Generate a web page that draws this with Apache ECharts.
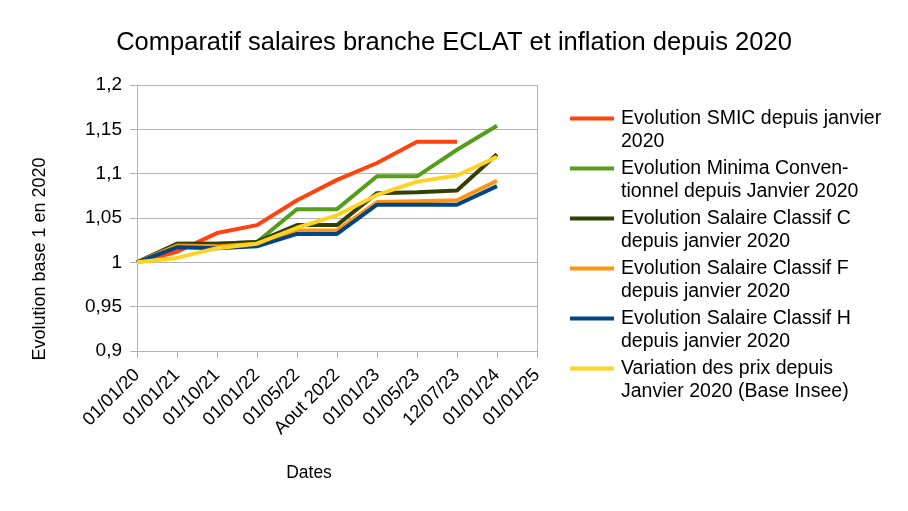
<!DOCTYPE html>
<html>
	<head>
		<meta charset="utf-8">
		<title></title>
		<script src='https://cdn.jsdelivr.net/npm/echarts@6.0.0/dist/echarts.min.js'></script>
		<style>
			body{ margin:0; }
			#chart{
				width: 908px;
				height: 511px;
			}
		</style>
	</head>
	<body>
		<div id="chart"></div>
		<script>
            const dates = ['01/01/20','01/01/21','01/10/21','01/01/22','01/05/22','Aout 2022','01/01/23','01/05/23','12/07/23','01/01/24','01/01/25']
            const smic = [1, 1.012, 1.033, 1.042, 1.070, 1.093, 1.112, 1.136, 1.136, null, null]
            const minima = [1, 1.021, 1.021, 1.023, 1.060, 1.060, 1.097, 1.097, 1.127, 1.154, null]
            const classifC = [1, 1.021, 1.021, 1.023, 1.042, 1.042, 1.078, 1.079, 1.081, 1.122, null]
            const classifF = [1, 1.019, 1.018, 1.021, 1.036, 1.036, 1.068, 1.069, 1.070, 1.092, null]
            const classifH = [1, 1.017, 1.016, 1.018, 1.032, 1.032, 1.065, 1.065, 1.065, 1.086, null]
            const prix = [1, 1.005, 1.016, 1.021, 1.039, 1.053, 1.076, 1.091, 1.098, 1.119, null]

            const names = [
                'Evolution SMIC depuis janvier\n2020',
                'Evolution Minima Conven-\ntionnel depuis Janvier 2020',
                'Evolution Salaire Classif C\ndepuis janvier 2020',
                'Evolution Salaire Classif F\ndepuis janvier 2020',
                'Evolution Salaire Classif H\ndepuis janvier 2020',
                'Variation des prix depuis\nJanvier 2020 (Base Insee)'
            ]
            const values = [smic, minima, classifC, classifF, classifH, prix]
            const colors = ['#ff420e','#579d1c','#314004','#ff950e','#004586','#ffd320']

            const font = 'Liberation Sans'
            const gray = '#b3b3b3'

			const chart = echarts.init(document.getElementById('chart'), null, {renderer:'canvas'});
            const option = {
                animation:false,
                textStyle:{ fontFamily:font },
                title:{
                    text:'Comparatif salaires branche ECLAT et inflation depuis 2020',
                    left:'center',
                    top:25,
                    textStyle:{ fontFamily:font, fontSize:25.5, fontWeight:'normal', color:'#000' }
                },
                grid:{ left:137, right:371, top:85, bottom:160 },
                legend:{
                    orient:'vertical',
                    left:565,
                    top:102,
                    itemWidth:44,
                    itemHeight:46,
                    itemGap:4,
                    // bar sits on the first text line
                    icon:'path://M0,0L0,0M0,9.5L44,9.5L44,13.5L0,13.5ZM0,46L0,46',
                    itemStyle:{ borderWidth:0 },
                    textStyle:{ fontFamily:font, fontSize:19.5, lineHeight:23, color:'#000', padding:[0,0,0,2] },
                    data: names
                },
                xAxis:{
                    type:'category',
                    boundaryGap:false,
                    data:dates,
                    name:'Dates',
                    nameLocation:'middle',
                    nameGap:113,
                    nameTextStyle:{ fontFamily:font, fontSize:17.5, color:'#000', padding:[0,56,0,0] },
                    axisLine:{ lineStyle:{ color:gray } },
                    axisTick:{ show:true, length:7, lineStyle:{ color:gray } },
                    axisLabel:{ rotate:45, fontFamily:font, fontSize:18.5, color:'#000', margin:21, interval:0 },
                    splitLine:{
                        show:true,
                        interval:function(i){ return i === dates.length - 1 },
                        lineStyle:{ color:gray }
                    }
                },
                yAxis:{
                    type:'value',
                    min:0.9,
                    max:1.2,
                    interval:0.05,
                    name:'Evolution base 1 en 2020',
                    nameLocation:'middle',
                    nameGap:88,
                    nameTextStyle:{ fontFamily:font, fontSize:18, color:'#000', padding:[0,82,0,0] },
                    axisLine:{ show:true, lineStyle:{ color:gray } },
                    axisTick:{ show:true, length:7, lineStyle:{ color:gray } },
                    axisLabel:{
                        fontFamily:font, fontSize:19, color:'#000', margin:15,
                        formatter:function(v){ return String(+v.toFixed(2)).replace('.', ',') }
                    },
                    splitLine:{ show:true, lineStyle:{ color:gray } }
                },
                series: values.map(function(d, i){
                    return {
                        name:names[i],
                        type:'line',
                        data:d,
                        symbol:'none',
                        color:colors[i],
                        lineStyle:{ width:4, color:colors[i] }
                    }
                })
            };
			chart.setOption(option);
		</script>
	</body>
</html>
